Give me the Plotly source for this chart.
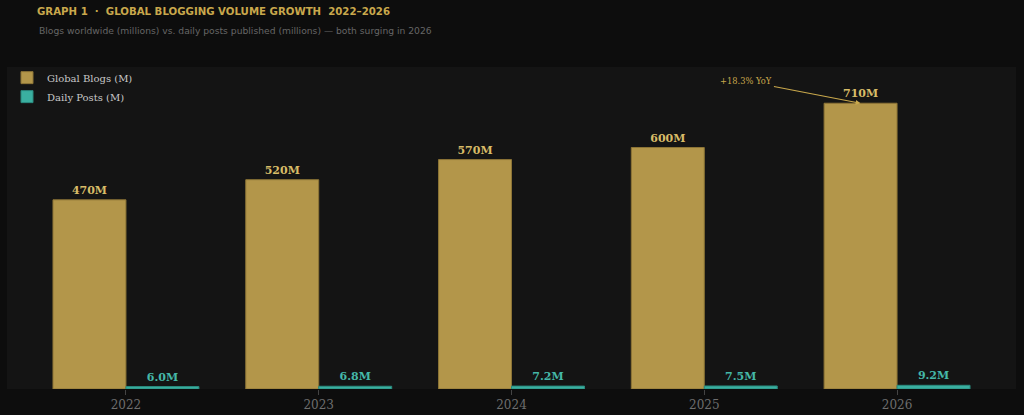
import plotly.graph_objects as go

years = ["2022", "2023", "2024", "2025", "2026"]
blogs = [470, 520, 570, 600, 710]
posts = [6.0, 6.8, 7.2, 7.5, 9.2]

GOLD = "#b3964a"
GOLD_LINE = "#8c7436"
GOLD_TXT = "#d8bc68"
TEAL = "#3aafa0"
TEAL_LINE = "#2a8a7e"
TEAL_TXT = "#45b8a8"
SERIF = "DejaVu Serif"

fig = go.Figure()
fig.add_trace(go.Bar(
    name="Global Blogs (M)", x=years, y=blogs,
    marker=dict(color=GOLD, line=dict(color=GOLD_LINE, width=1)),
    text=[f"{v}M" for v in blogs], textposition="outside",
    textfont=dict(family=SERIF, size=11, color=GOLD_TXT, weight="bold"),
    cliponaxis=False,
))
fig.add_trace(go.Bar(
    name="Daily Posts (M)", x=years, y=posts,
    marker=dict(color=TEAL, line=dict(color=TEAL_LINE, width=1)),
    text=[f"{v:.1f}M" for v in posts], textposition="outside",
    textfont=dict(family=SERIF, size=11, color=TEAL_TXT, weight="bold"),
    cliponaxis=False,
))

fig.update_layout(
    width=1024, height=415,
    margin=dict(l=7, r=8, t=67, b=26),
    paper_bgcolor="#0d0d0d", plot_bgcolor="#141414",
    barmode="group", bargap=0.243, bargroupgap=0,
    title=dict(
        text="<b>GRAPH 1  ·  GLOBAL BLOGGING VOLUME GROWTH  2022–2026</b>",
        font=dict(family="DejaVu Sans", size=10.2, color="#c9a84c"),
        xref="container", x=37/1024, xanchor="left",
        yref="container", y=1-11/415, yanchor="middle",
    ),
    showlegend=True,
    legend=dict(
        x=0.0, y=1.012, xanchor="left", yanchor="top",
        bgcolor="rgba(0,0,0,0)",
        font=dict(family=SERIF, size=10, color="#c8c8c8"),
        itemwidth=30, tracegroupgap=0,
    ),
    xaxis=dict(
        type="category", range=[-0.617, 4.617], automargin=False,
        showgrid=False, zeroline=False, showline=False,
        ticks="outside", ticklen=5, tickcolor="#444444",
        tickfont=dict(family=SERIF, size=12, color="#6e6e6e"),
    ),
    yaxis=dict(
        range=[0, 800], visible=False, showgrid=False, zeroline=False,
        automargin=False,
    ),
    annotations=[
        dict(
            text="Blogs worldwide (millions) vs. daily posts published (millions) — both surging in 2026",
            xref="paper", yref="paper", x=(37-7)/1009, y=(389-30)/322,
            xanchor="left", yanchor="middle", showarrow=False,
            font=dict(family="DejaVu Sans", size=9.2, color="#666666"),
        ),
        dict(
            text="+18.3% YoY", x=3.81, y=710, xref="x", yref="y",
            ax=-114, ay=-22, showarrow=True,
            arrowhead=2, arrowsize=0.8, arrowwidth=1.2, arrowcolor="#c9a84c",
            font=dict(family=SERIF, size=8.3, color="#c9a84c"),
        ),
    ],
)

fig.write_html("out.html")
